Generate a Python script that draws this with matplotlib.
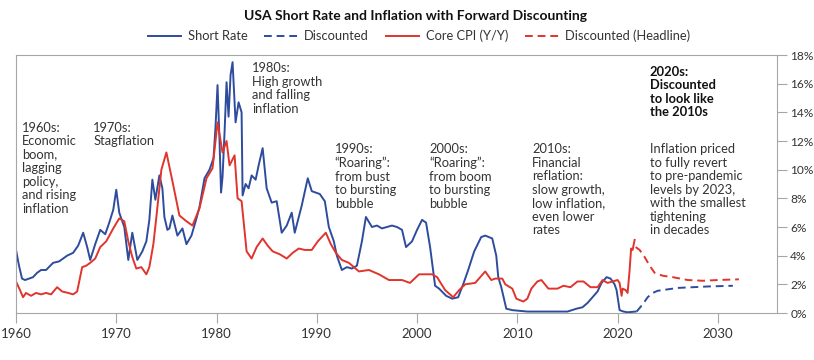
import matplotlib
matplotlib.use('Agg')
import matplotlib.pyplot as plt
from matplotlib.lines import Line2D

plt.rcParams['font.family'] = ['Lato', 'DejaVu Sans']

# short rate (%)
short_years = [1960.0, 1960.3, 1960.6, 1960.9, 1961.3, 1961.7, 1962.1, 1962.5, 1963.0, 1963.7,
               1964.3, 1965.1, 1965.7, 1966.2, 1966.7, 1967.1, 1967.4, 1967.9, 1968.4, 1968.9,
               1969.3, 1969.7, 1970.0, 1970.3, 1970.8, 1971.2, 1971.6, 1972.1, 1972.6, 1973.0,
               1973.3, 1973.6, 1973.9, 1974.3, 1974.6, 1974.8, 1975.1, 1975.3, 1975.6, 1976.1,
               1976.6, 1977.0, 1977.5, 1978.0, 1978.3, 1978.8, 1979.3, 1979.7, 1979.9, 1980.1,
               1980.3, 1980.45, 1980.6, 1980.8, 1981.0, 1981.2, 1981.4, 1981.6, 1981.9, 1982.2,
               1982.5, 1982.6, 1982.9, 1983.2, 1983.5, 1983.9, 1984.2, 1984.6, 1985.0, 1985.5,
               1986.0, 1986.5, 1987.0, 1987.5, 1987.8, 1988.5, 1989.1, 1989.5, 1989.9, 1990.3,
               1990.8, 1991.2, 1991.7, 1992.0, 1992.5, 1993.0, 1993.5, 1994.0, 1994.5, 1994.9,
               1995.5, 1996.0, 1996.5, 1997.0, 1997.5, 1998.0, 1998.5, 1998.9, 1999.5, 2000.0,
               2000.5, 2000.9, 2001.3, 2001.8, 2002.2, 2002.9, 2003.5, 2004.1, 2004.6, 2005.1,
               2005.7, 2006.4, 2006.8, 2007.5, 2007.9, 2008.1, 2008.4, 2008.9, 2009.5, 2011.0,
               2013.0, 2015.0, 2015.9, 2016.5, 2017.0, 2017.5, 2018.0, 2018.4, 2018.9, 2019.3,
               2019.7, 2019.9, 2020.2, 2020.6, 2021.0, 2021.8]
short_vals = [4.4, 3.3, 2.4, 2.3, 2.4, 2.5, 2.8, 3.0, 3.0, 3.5,
              3.6, 4.0, 4.2, 4.7, 5.6, 4.6, 3.7, 4.8, 5.8, 5.5,
              6.3, 7.2, 8.6, 7.0, 6.0, 3.7, 5.6, 3.7, 4.3, 5.0,
              6.5, 9.3, 7.9, 9.6, 8.7, 6.7, 5.8, 5.9, 6.8, 5.4,
              5.9, 4.8, 5.4, 6.6, 7.4, 9.4, 10.0, 10.8, 13.0, 15.9,
              12.0, 8.4, 9.5, 12.6, 16.1, 13.7, 16.6, 17.5, 13.3, 14.7,
              14.0, 8.2, 9.0, 8.7, 9.6, 9.3, 10.3, 11.5, 8.7, 7.7,
              7.8, 5.6, 6.1, 7.0, 5.6, 7.5, 9.4, 8.5, 8.4, 8.3,
              7.8, 6.0, 5.0, 4.0, 3.0, 3.2, 3.1, 3.3, 5.0, 6.7,
              6.0, 6.1, 5.9, 6.0, 6.1, 6.0, 5.8, 4.6, 5.0, 5.8,
              6.5, 6.3, 4.6, 1.9, 1.7, 1.2, 1.0, 1.1, 2.0, 3.0,
              4.3, 5.3, 5.4, 5.2, 4.0, 2.5, 1.8, 0.3, 0.2, 0.1,
              0.1, 0.1, 0.3, 0.4, 0.7, 1.1, 1.5, 2.1, 2.5, 2.4,
              2.0, 1.6, 0.2, 0.1, 0.05, 0.1]

# discounted short rate
disc_short_years = [2021.9, 2022.5, 2023.0, 2023.5, 2024.0, 2025.0, 2026.0, 2027.5, 2029.0, 2031.5]
disc_short_vals = [0.1, 0.6, 1.1, 1.4, 1.55, 1.65, 1.75, 1.8, 1.85, 1.9]

# core CPI y/y (%)
cpi_years = [1960.0, 1960.4, 1960.7, 1961.0, 1961.5, 1962.0, 1962.5, 1963.0, 1963.5, 1964.1,
             1964.6, 1965.2, 1965.7, 1966.1, 1966.6, 1967.0, 1967.4, 1967.9, 1968.4, 1969.0,
             1969.7, 1970.3, 1970.8, 1971.2, 1971.6, 1972.0, 1972.5, 1973.0, 1973.3, 1973.7,
             1974.0, 1974.5, 1975.0, 1975.6, 1976.3, 1977.0, 1977.6, 1978.3, 1979.0, 1979.6,
             1980.1, 1980.6, 1981.0, 1981.3, 1981.8, 1982.1, 1982.5, 1983.0, 1983.5, 1984.0,
             1984.6, 1985.1, 1985.6, 1986.3, 1987.0, 1987.6, 1988.2, 1988.8, 1989.5, 1990.1,
             1990.9, 1991.4, 1991.9, 1992.5, 1993.2, 1994.2, 1995.2, 1996.2, 1997.2, 1998.5,
             1999.3, 2000.2, 2001.5, 2002.0, 2002.8, 2003.6, 2004.2, 2004.8, 2005.8, 2006.8,
             2007.4, 2007.8, 2008.5, 2008.8, 2009.5, 2009.9, 2010.6, 2011.0, 2011.4, 2012.0,
             2012.4, 2013.1, 2014.0, 2014.6, 2015.3, 2016.0, 2016.6, 2017.3, 2018.0, 2018.5,
             2019.0, 2019.5, 2020.0, 2020.2, 2020.4, 2020.5, 2020.8, 2021.0, 2021.2, 2021.35,
             2021.5, 2021.7]
cpi_vals = [2.2, 1.6, 1.1, 1.4, 1.2, 1.4, 1.3, 1.4, 1.3, 1.8,
            1.5, 1.4, 1.3, 1.5, 3.2, 3.3, 3.5, 3.8, 4.6, 5.0,
            5.9, 6.6, 6.4, 5.0, 3.9, 3.1, 3.2, 2.7, 3.2, 4.8,
            6.7, 10.0, 11.2, 9.2, 6.8, 6.4, 6.1, 7.3, 9.4, 10.1,
            13.3, 11.2, 12.0, 10.3, 11.0, 8.0, 7.8, 4.3, 3.8, 4.6,
            5.2, 4.7, 4.3, 4.1, 3.8, 4.2, 4.5, 4.4, 4.4, 5.0,
            5.6, 4.8, 4.2, 3.7, 3.5, 2.9, 3.0, 2.7, 2.3, 2.3,
            2.1, 2.7, 2.7, 2.5, 1.6, 1.1, 1.6, 2.0, 2.1, 2.9,
            2.3, 2.4, 2.4, 2.0, 1.7, 1.0, 0.8, 1.0, 1.7, 2.2,
            2.3, 1.7, 1.7, 1.9, 1.8, 2.2, 2.2, 1.8, 1.8, 2.3,
            2.1, 2.2, 2.3, 2.1, 1.2, 1.7, 1.6, 1.4, 3.0, 4.5,
            4.4, 5.1]

# discounted headline inflation
disc_cpi_years = [2021.8, 2022.2, 2022.7, 2023.2, 2023.7, 2024.5, 2025.5, 2027.0, 2028.5, 2030.0, 2032.1]
disc_cpi_vals = [4.6, 4.4, 3.9, 3.3, 2.8, 2.6, 2.5, 2.3, 2.25, 2.3, 2.35]

year_ticks = [1960, 1970, 1980, 1990, 2000, 2010, 2020, 2030]
pct_ticks = [0, 2, 4, 6, 8, 10, 12, 14, 16, 18]

blue = '#2E4C9E'
red = '#E0342C'
txt = '#333333'
spine = '#a6a6a6'

fig = plt.figure(figsize=(8.14, 3.6), dpi=100)
ax = fig.add_axes([16/814, 47/360, 761/814, 258/360])

dash = (0, (4, 2.5))
ax.plot(short_years, short_vals, color=blue, lw=1.4)
ax.plot(disc_short_years, disc_short_vals, color=blue, lw=1.4, ls=dash)
ax.plot(cpi_years, cpi_vals, color=red, lw=1.4)
ax.plot(disc_cpi_years, disc_cpi_vals, color=red, lw=1.4, ls=dash)

ax.set_xlim(1960, 2035.9)
ax.set_ylim(0, 18)
ax.set_xticks(year_ticks)
ax.set_xticklabels([str(y) for y in year_ticks])
ax.yaxis.tick_right()
ax.set_yticks(pct_ticks)
ax.set_yticklabels(['%d%%' % p for p in pct_ticks])
ax.tick_params(axis='both', direction='out', length=7, width=0.8, color=spine,
               labelcolor=txt)
ax.tick_params(axis='x', pad=4, labelsize=9.5)
ax.tick_params(axis='y', pad=2.5, labelsize=8.6)
for s in ax.spines.values():
    s.set_color(spine)
    s.set_linewidth(0.8)

fs = 9.3
ls = 1.15
notes = [
    (1960.6, 13.35, "1960s:\nEconomic\nboom,\nlagging\npolicy,\nand rising\ninflation", 'normal'),
    (1967.7, 13.35, "1970s:\nStagflation", 'normal'),
    (1983.55, 17.5, "1980s:\nHigh growth\nand falling\ninflation", 'normal'),
    (1991.8, 11.85, "1990s:\n\u201cRoaring\u201d:\nfrom bust\nto bursting\nbubble", 'normal'),
    (2001.2, 11.85, "2000s:\n\u201cRoaring\u201d:\nfrom boom\nto bursting\nbubble", 'normal'),
    (2011.5, 11.85, "2010s:\nFinancial\nreflation:\nslow growth,\nlow inflation,\neven lower\nrates", 'normal'),
    (2023.2, 17.25, "2020s:\nDiscounted\nto look like\nthe 2010s", 'bold'),
    (2023.2, 11.85, "Inflation priced\nto fully revert\nto pre-pandemic\nlevels by 2023,\nwith the smallest\ntightening\nin decades", 'normal'),
]
for x, y, s, w in notes:
    ax.text(x, y, s, ha='left', va='top', fontsize=fs, linespacing=ls,
            color=txt if w == 'normal' else '#111111', fontweight=w)

fig.text(416/814, 1 - 16/360, 'USA Short Rate and Inflation with Forward Discounting',
         ha='center', va='center', fontsize=10, fontweight='bold', color='#111111')

handles = [Line2D([], [], color=blue, lw=1.4),
           Line2D([], [], color=blue, lw=1.4, ls=dash),
           Line2D([], [], color=red, lw=1.4),
           Line2D([], [], color=red, lw=1.4, ls=dash)]
labels = ['Short Rate', 'Discounted', 'Core CPI (Y/Y)', 'Discounted (Headline)']
leg = fig.legend(handles, labels, loc='center', bbox_to_anchor=(419/814, 1 - 36/360),
                 ncol=4, frameon=False, fontsize=fs, handlelength=2.6,
                 handletextpad=0.5, columnspacing=1.3, borderpad=0)
for t in leg.get_texts():
    t.set_color(txt)

fig.savefig('out.png', dpi=100)
